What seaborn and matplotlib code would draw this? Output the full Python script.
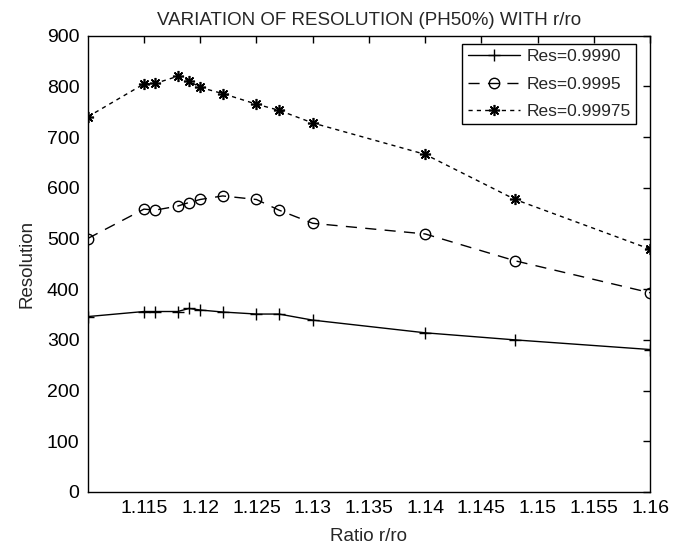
import matplotlib
matplotlib.use("Agg")
import matplotlib.pyplot as plt
import seaborn as sns
import pandas as pd

ratio = [1.11, 1.115, 1.116, 1.118, 1.119, 1.12, 1.122, 1.125, 1.127, 1.13, 1.14, 1.148, 1.16]
res_9990 = [346, 356, 356, 356, 362, 359, 355, 351, 351, 339, 314, 300, 281]
res_9995 = [500, 558, 556, 564, 571, 577, 584, 577, 556, 530, 509, 456, 393]
res_99975 = [740, 805, 806, 820, 811, 798, 786, 765, 753, 728, 666, 577, 479]
labels = ["Res=0.9990", "Res=0.9995", "Res=0.99975"]
xticks = [1.115, 1.12, 1.125, 1.13, 1.135, 1.14, 1.145, 1.15, 1.155, 1.16]
yticks = [0, 100, 200, 300, 400, 500, 600, 700, 800, 900]

sns.set_style("white")
plt.rcParams["font.family"] = ["Liberation Sans", "DejaVu Sans"]

fig = plt.figure(figsize=(6.88, 5.5), dpi=100)
ax = fig.add_axes([0.1275, 0.1055, 0.8175, 0.8295])

df = pd.DataFrame({"ratio": ratio, "a": res_9990, "b": res_9995, "c": res_99975})

sns.lineplot(data=df, x="ratio", y="a", ax=ax, color="black", lw=1.0,
             marker="+", ms=8, mew=1.0, mec="black", mfc="none",
             linestyle="-", label=labels[0])
sns.lineplot(data=df, x="ratio", y="b", ax=ax, color="black", lw=1.0,
             marker="o", ms=7.5, mew=1.0, mec="black", mfc="none",
             linestyle=(0, (8, 6)), label=labels[1])
sns.lineplot(data=df, x="ratio", y="c", ax=ax, color="black", lw=1.0,
             marker=(8, 2, 0), ms=8, mew=1.2, mec="black", mfc="none",
             linestyle=(0, (3, 3)), label=labels[2])

ax.set_xlim(1.11, 1.16)
ax.set_ylim(0, 900)
ax.set_xticks(xticks)
ax.set_xticklabels([f"{t:g}" for t in xticks])
ax.set_yticks(yticks)
ax.tick_params(direction="in", top=True, right=True, length=5, width=1.0,
               labelsize=14, colors="black", pad=6)
for s in ax.spines.values():
    s.set_color("black")
    s.set_linewidth(1.0)

ax.set_xlabel("Ratio r/ro", fontsize=13.5, labelpad=8)
ax.set_ylabel("Resolution", fontsize=13.5, labelpad=8)
ax.set_title("VARIATION OF RESOLUTION (PH50%) WITH r/ro", fontsize=13.5, pad=8)

leg = ax.legend(loc="upper right", bbox_to_anchor=(0.975, 0.982), borderaxespad=0,
                fontsize=12.5, frameon=True, fancybox=False,
                edgecolor="black", framealpha=1, borderpad=0.3, labelspacing=0.7,
                handlelength=3.0, handletextpad=0.4)
leg.get_frame().set_linewidth(1.0)

fig.savefig("out.png", dpi=100)
